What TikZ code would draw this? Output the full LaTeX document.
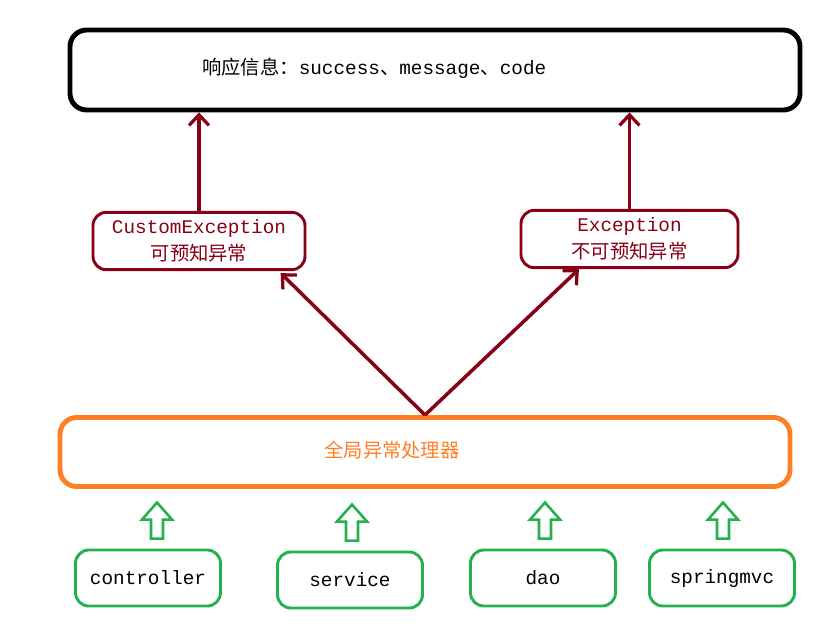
\documentclass[tikz,border=0pt]{standalone}
\usepackage{fontspec}
\setmainfont{Liberation Mono}
\newfontfamily\cjk{Noto Sans CJK SC}
\usepackage{tikz}
\usetikzlibrary{arrows.meta, positioning, calc}
\definecolor{excred}{RGB}{136, 0, 21}
\definecolor{handlerorange}{RGB}{255, 127, 39}
\definecolor{layergreen}{RGB}{34, 177, 76}

\begin{document}
\begin{tikzpicture}[
    x=0.03cm, y=-0.03cm,
    font=\fontsize{16.5}{20}\selectfont,
    respbox/.style={draw=black, line width=4.2pt, rounded corners=0.5cm, minimum width=21.9cm, minimum height=2.4cm},
    excbox/.style={draw=excred, line width=2.5pt, rounded corners=0.4cm, minimum height=1.72cm, align=center, text=excred},
    handlerbox/.style={draw=handlerorange, line width=4.2pt, rounded corners=0.5cm, minimum width=21.9cm, minimum height=2.07cm},
    layerbox/.style={draw=layergreen, line width=2.5pt, rounded corners=0.4cm, minimum width=4.35cm, minimum height=1.68cm},
    excarrow/.style={draw=excred, line width=3pt, -{Straight Barb[length=9pt, width=17pt, line width=2.8pt]}},
    hollowarrow/.style={draw=layergreen, line width=2.2pt, line join=miter}
]
    \useasboundingbox (0,0) rectangle (834,633);

    % Response
    \node[respbox] (resp) at (435,70) {};
    \node[anchor=west] (resptext) at (198,68) {{\cjk 响应信息：}success{\cjk 、}message{\cjk 、}code};

    % Exceptions
    \node[excbox, minimum width=6.36cm] (custom) at (199,241) {\raisebox{-3pt}{CustomException}\\[3pt]\raisebox{-3pt}{\cjk 可预知异常}};
    \node[excbox, minimum width=6.51cm] (exc) at (629.5,239) {\raisebox{-3pt}{Exception}\\[3pt]\raisebox{-3pt}{\cjk 不可预知异常}};

    % Global handler
    \node[handlerbox] (handler) at (425,452) {};
    \node[text=handlerorange] (handlertext) at (392,450) {\cjk 全局异常处理器};

    % Layers
    \node[layerbox] (ctrl) at (148,578) {controller};
    \node[layerbox] (svc) at (350,580) {service};
    \node[layerbox] (dao) at (543,578) {dao};
    \node[layerbox] (mvc) at (722,578) {springmvc};

    % Relationships
    \draw[excarrow] (custom.north) -- (custom.north |- resp.south);
    \draw[excarrow] (exc.north) -- (exc.north |- resp.south);
    \draw[excarrow] (handler.north) -- ($(custom.south west)!0.88!(custom.south east)+(0,2)$);
    \draw[excarrow] (handler.north) -- ($(exc.south west)!0.27!(exc.south east)$);

    \foreach \n/\dx in {ctrl/9, svc/2, dao/2, mvc/1}
        \draw[hollowarrow] ($(\n.north)+(\dx-6,-10)$) -- ++(0,-19) -- ++(-9,0) -- ++(15,-17)
            -- ++(15,17) -- ++(-9,0) -- ++(0,19) -- cycle;

\end{tikzpicture}
\end{document}
